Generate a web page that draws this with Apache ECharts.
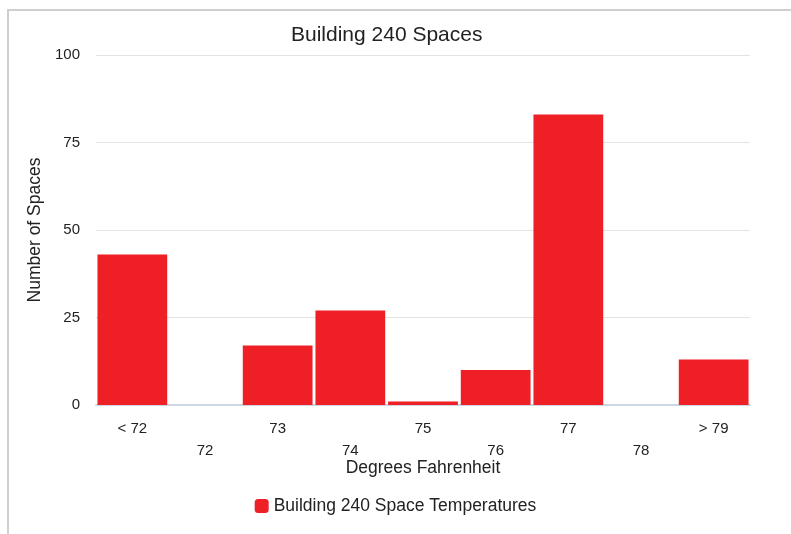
<!DOCTYPE html>
<html>
<head>
    <meta charset="utf-8">
    <style>
        body{margin: 0; background: #fff;}
        #frame{
            position: absolute;
            left: 7px;
            top: 9px;
            width: 800px;
            height: 540px;
            border-left: 2px solid #cfcfcf;
            border-top: 2px solid #cfcfcf;
        }
        #container{position: absolute; left: 0; top: 0; width: 791px; height: 534px;}
    </style>
</head>
<body>
<div id="frame"></div>
<div id="container"></div>

<script src="https://cdn.jsdelivr.net/npm/echarts@6/dist/echarts.min.js"></script>
<script type="text/javascript">
    var categories = ['< 72', '72', '73', '74', '75', '76', '77', '78', '> 79'];
    var spaceCounts = [43, 0, 17, 27, 1, 10, 83, 0, 13];
    var yTicks = [0, 25, 50, 75, 100];

    var myChart = echarts.init(document.getElementById('container'));
    var fontName = 'Liberation Sans';

    var option = {
        backgroundColor: 'transparent',
        title: {
            text: 'Building 240 Spaces',
            left: 286,
            top: 20,
            textStyle: {fontFamily: fontName, fontSize: 21, fontWeight: 'normal', color: '#222'}
        },
        legend: {
            bottom: 14,
            left: 'center',
            icon: 'roundRect',
            itemWidth: 14,
            itemHeight: 14,
            itemGap: 3,
            textStyle: {fontFamily: fontName, fontSize: 17.5, color: '#222'},
            data: ['Building 240 Space Temperatures']
        },
        grid: {left: 96, right: 41, top: 55, bottom: 129},
        xAxis: {
            type: 'category',
            data: categories,
            name: 'Degrees Fahrenheit',
            nameLocation: 'middle',
            nameGap: 54,
            nameMoveOverlap: false,
            nameTextStyle: {fontFamily: fontName, fontSize: 17.5, color: '#222'},
            axisLine: {lineStyle: {color: '#ccd7e3', width: 2}},
            axisTick: {length: 8, lineStyle: {color: '#ccd7e3', width: 2}},
            axisLabel: {
                interval: 0,
                margin: 13,
                fontFamily: fontName,
                fontSize: 15,
                color: '#222',
                lineHeight: 22,
                formatter: function (val, idx) {
                    return idx % 2 === 1 ? '\n' + val : val;
                }
            }
        },
        yAxis: {
            type: 'value',
            min: yTicks[0],
            max: yTicks[yTicks.length - 1],
            interval: 25,
            name: 'Number of Spaces',
            nameLocation: 'middle',
            nameGap: 52,
            nameTextStyle: {fontFamily: fontName, fontSize: 17.5, color: '#222'},
            axisLine: {show: false},
            axisTick: {show: false},
            axisLabel: {margin: 16, fontFamily: fontName, fontSize: 15, color: '#222'},
            splitLine: {lineStyle: {color: '#e3e3e3', width: 1}}
        },
        series: [{
            name: 'Building 240 Space Temperatures',
            type: 'bar',
            data: spaceCounts,
            barCategoryGap: '4%',
            itemStyle: {color: '#ee1f25'}
        }]
    };

    myChart.setOption(option);
</script>
</body>
</html>
